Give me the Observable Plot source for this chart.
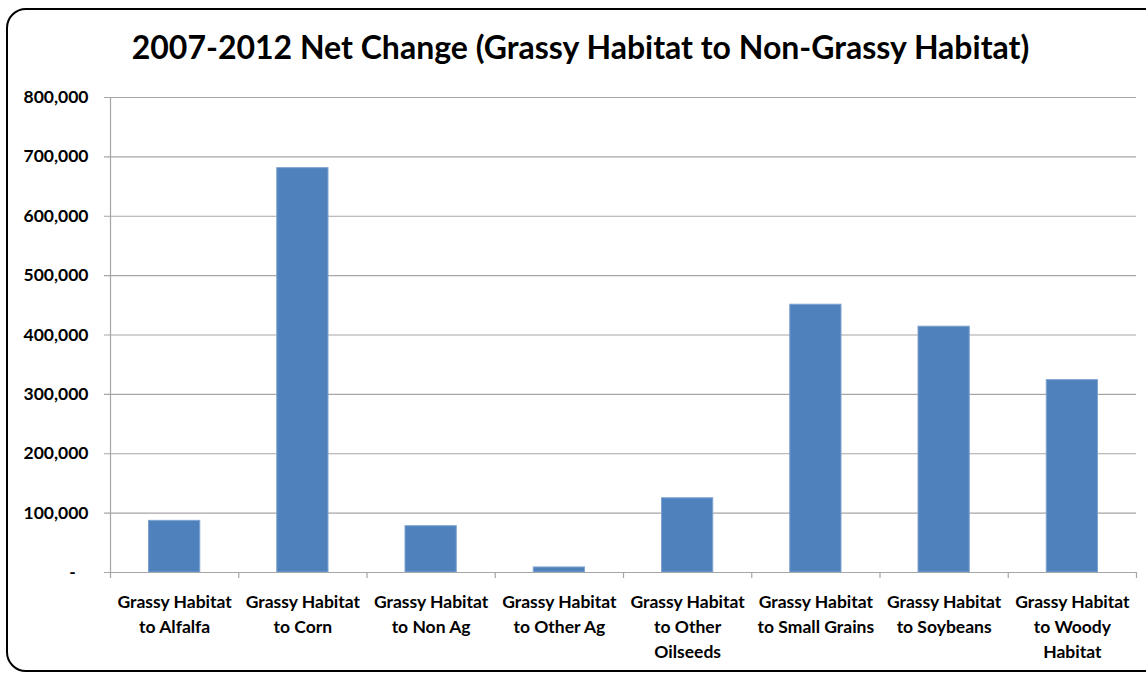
<!DOCTYPE html>
<html>
<head>
<meta charset="utf-8">
<script src="https://cdn.jsdelivr.net/npm/d3@7"></script>
<script src="https://cdn.jsdelivr.net/npm/@observablehq/plot@0.6"></script>
<style>
  html, body { margin: 0; padding: 0; width: 1146px; height: 675px; overflow: hidden; background: #fff; }
  #frame { position: absolute; left: 6px; top: 8px; width: 1170px; height: 660px; border: 2.5px solid #000; border-radius: 20px; }
  #title { position: absolute; left: 0; width: 1161px; top: 27px; text-align: center; font-family: Lato, sans-serif; font-weight: bold; font-size: 32px; color: #000; }
  #chart { position: absolute; left: 0; top: 80px; }
</style>
</head>
<body>
<div id="frame"></div>
<div id="title">2007-2012 Net Change (Grassy Habitat to Non-Grassy Habitat)</div>
<div id="chart"></div>
<script>
const categories = [
  "Grassy Habitat\nto Alfalfa",
  "Grassy Habitat\nto Corn",
  "Grassy Habitat\nto Non Ag",
  "Grassy Habitat\nto Other Ag",
  "Grassy Habitat\nto Other\nOilseeds",
  "Grassy Habitat\nto Small Grains",
  "Grassy Habitat\nto Soybeans",
  "Grassy Habitat\nto Woody\nHabitat"
];
const values = [87000, 681000, 78000, 8500, 125000, 451000, 414000, 324000];
const yTicks = [0, 100000, 200000, 300000, 400000, 500000, 600000, 700000, 800000];

const data = categories.map((c, i) => ({category: c, i, value: values[i]}));
const boundaries = d3.range(categories.length + 1);
const fmt = d3.format(",");

const plot = Plot.plot({
  width: 1146,
  height: 595,
  marginLeft: 110,
  marginRight: 10,
  marginTop: 17,
  marginBottom: 103,
  style: {fontFamily: "Lato, sans-serif", fontWeight: "bold", fontSize: "17px", color: "#000", background: "transparent"},
  x: {domain: [0, categories.length], axis: null},
  y: {domain: [0, 800000], axis: null},
  marks: [
    Plot.gridY(yTicks, {stroke: "#a6a6a6", strokeOpacity: 1, strokeWidth: 1.2, insetLeft: -6}),
    Plot.axisY(yTicks, {
      label: null,
      tickSize: 0, tickPadding: 22,
      tickFormat: d => d === 0 ? "-\u00a0\u00a0\u00a0" : fmt(d),
      fontSize: 17.5, fontWeight: "bold", fill: "#000"
    }),
    Plot.rectY(data, {x1: "i", x2: d => d.i + 1, y: "value", fill: "#4F81BD", stroke: "#7fa3d0", strokeWidth: 1, insetLeft: 38.5, insetRight: 38.5}),
    Plot.ruleX([0], {stroke: "#a6a6a6", strokeWidth: 1.2}),
    Plot.ruleY([0], {stroke: "#a6a6a6", strokeWidth: 1.2}),
    Plot.axisX(boundaries, {label: null, tickSize: 6, tickFormat: () => "", stroke: "#a6a6a6", strokeWidth: 1.2, strokeOpacity: 1}),
    Plot.text(data, {x: d => d.i + 0.5, y: 0, text: "category", lineAnchor: "top", dy: 18, lineHeight: 1.43, fontSize: 17.5, fontWeight: "bold", fill: "#000"})
  ]
});
document.getElementById("chart").appendChild(plot);
</script>
</body>
</html>
